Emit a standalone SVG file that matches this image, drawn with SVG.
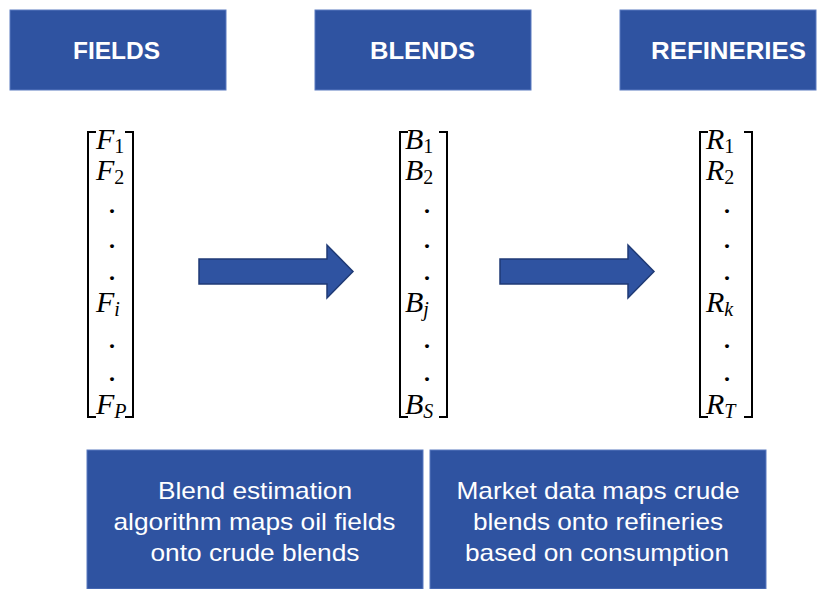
<svg xmlns="http://www.w3.org/2000/svg" width="823" height="589" viewBox="0 0 823 589">
<style>
.box{fill:#2F53A1;stroke:#5B7BC0;stroke-width:1}
.hdr{font-family:"Liberation Sans",Arial,sans-serif;font-weight:bold;font-size:24px;fill:#fff;text-anchor:middle}
.desc{font-family:"Liberation Sans",Arial,sans-serif;font-size:24px;fill:#fff;text-anchor:middle}
.m{font-family:"Liberation Serif","DejaVu Serif",serif;font-style:italic;font-size:30px;fill:#000}
.s{font-style:normal;font-size:20px}
.si{font-size:20px}
.dot{font-family:"Liberation Serif",serif;font-weight:bold;font-size:24px;fill:#000;text-anchor:middle}
.br{fill:none;stroke:#000;stroke-width:2}
.arr{fill:#2F53A1;stroke:#1F3A75;stroke-width:1.5}
</style>
<g id="fields-header"><rect class="box" x="10" y="10" width="216" height="80"/><text class="hdr" x="116.5" y="59" textLength="87" lengthAdjust="spacingAndGlyphs">FIELDS</text></g>
<g id="blends-header"><rect class="box" x="315" y="10" width="216" height="80"/><text class="hdr" x="422.5" y="59" textLength="105" lengthAdjust="spacingAndGlyphs">BLENDS</text></g>
<g id="refineries-header"><rect class="box" x="620" y="10" width="196" height="80"/><text class="hdr" x="728.5" y="59" textLength="155" lengthAdjust="spacingAndGlyphs">REFINERIES</text></g>

<g id="fields-vector">
<path class="br" d="M96,132 H88 V417 H96 M125,132 H133 V417 H125"/>
<text class="m" x="96" y="149">F<tspan class="s" dy="4">1</tspan></text>
<text class="m" x="96" y="180">F<tspan class="s" dy="4">2</tspan></text>
<text class="dot" x="112" y="213">.</text>
<text class="dot" x="112" y="248">.</text>
<text class="dot" x="112" y="280">.</text>
<text class="m" x="96" y="312">F<tspan class="si" dy="4">i</tspan></text>
<text class="dot" x="112" y="348">.</text>
<text class="dot" x="112" y="381">.</text>
<text class="m" x="96" y="414">F<tspan class="si" dy="4">P</tspan></text>
</g>

<g id="blends-vector">
<path class="br" d="M408,132 H400 V417 H408 M439,132 H447 V417 H439"/>
<text class="m" x="405" y="149">B<tspan class="s" dy="4">1</tspan></text>
<text class="m" x="405" y="180">B<tspan class="s" dy="4">2</tspan></text>
<text class="dot" x="427" y="213">.</text>
<text class="dot" x="427" y="248">.</text>
<text class="dot" x="427" y="280">.</text>
<text class="m" x="405" y="312">B<tspan class="si" dy="4">j</tspan></text>
<text class="dot" x="427" y="348">.</text>
<text class="dot" x="427" y="381">.</text>
<text class="m" x="405" y="414">B<tspan class="si" dy="4">S</tspan></text>
</g>

<g id="refineries-vector">
<path class="br" d="M708,132 H700 V417 H708 M744,132 H752 V417 H744"/>
<text class="m" x="706" y="149">R<tspan class="s" dy="4">1</tspan></text>
<text class="m" x="706" y="180">R<tspan class="s" dy="4">2</tspan></text>
<text class="dot" x="727" y="213">.</text>
<text class="dot" x="727" y="248">.</text>
<text class="dot" x="727" y="280">.</text>
<text class="m" x="706" y="312">R<tspan class="si" dy="4">k</tspan></text>
<text class="dot" x="727" y="348">.</text>
<text class="dot" x="727" y="381">.</text>
<text class="m" x="706" y="414">R<tspan class="si" dy="4">T</tspan></text>
</g>

<g id="connectors">
<path class="arr" d="M199,259 H327 V245 L353,271.5 L327,298 V284 H199 Z"/>
<path class="arr" d="M500,259 H628 V245 L654,271.5 L628,298 V284 H500 Z"/>
</g>

<g id="blend-estimation"><rect class="box" x="87" y="450" width="336" height="139"/>
<text class="desc" x="255" y="499" textLength="194" lengthAdjust="spacingAndGlyphs">Blend estimation</text>
<text class="desc" x="254.5" y="530" textLength="282" lengthAdjust="spacingAndGlyphs">algorithm maps oil fields</text>
<text class="desc" x="255" y="561" textLength="209" lengthAdjust="spacingAndGlyphs">onto crude blends</text></g>
<g id="market-data"><rect class="box" x="430" y="450" width="336" height="139"/>
<text class="desc" x="598" y="499" textLength="283" lengthAdjust="spacingAndGlyphs">Market data maps crude</text>
<text class="desc" x="598" y="530" textLength="250" lengthAdjust="spacingAndGlyphs">blends onto refineries</text>
<text class="desc" x="597" y="561" textLength="264" lengthAdjust="spacingAndGlyphs">based on consumption</text></g>
</svg>
